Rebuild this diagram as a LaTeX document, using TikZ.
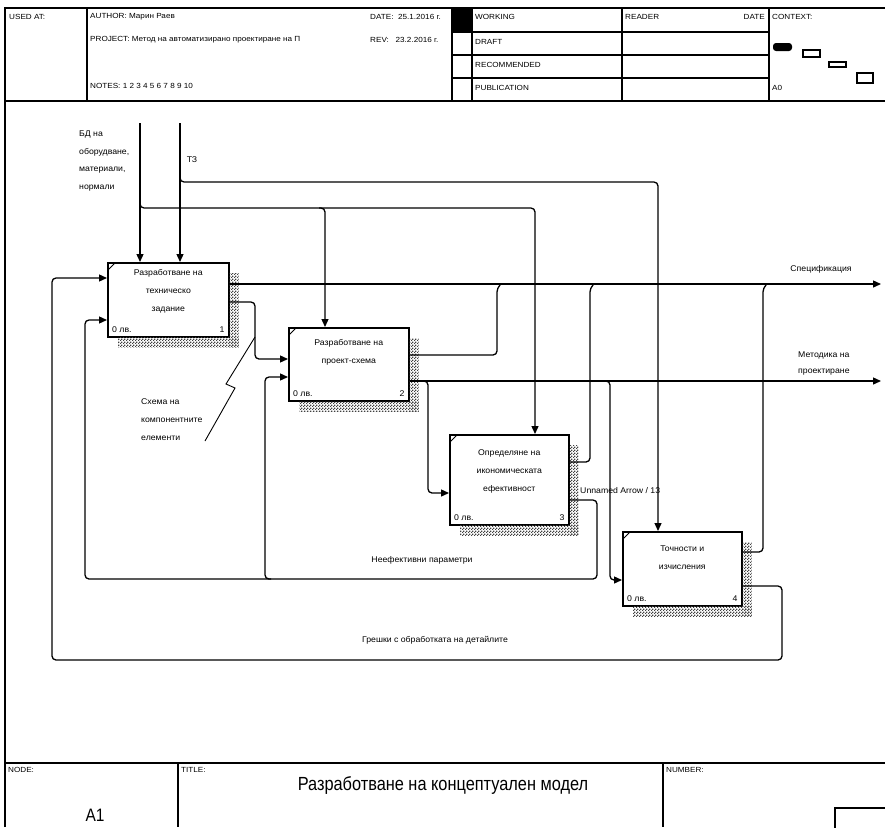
\documentclass[tikz,border=0pt]{standalone}
\usepackage{fontspec}
\setmainfont{Liberation Sans}
\newfontfamily\lbl[FakeStretch=1.05]{Liberation Sans}
\newfontfamily\hfont[FakeStretch=1.1]{Liberation Sans}
\newfontfamily\tfont[FakeStretch=0.86]{Liberation Sans}
\usetikzlibrary{arrows.meta,patterns}
\pgfdeclarepatternformonly{finechk}{\pgfpointorigin}{\pgfpoint{3pt}{3pt}}{\pgfpoint{3pt}{3pt}}{%
  \pgfpathrectangle{\pgfpointorigin}{\pgfpoint{1.5pt}{1.5pt}}%
  \pgfpathrectangle{\pgfpoint{1.5pt}{1.5pt}}{\pgfpoint{1.5pt}{1.5pt}}%
  \pgfusepath{fill}}
\begin{document}
\begin{tikzpicture}[x=1pt,y=-1pt,
  line/.style={line width=1.3pt, rounded corners=4pt},
  arr/.style={line, -{Triangle[length=8pt,width=7pt]}},
  fbox/.style={draw, line width=1.6pt, fill=white, inner sep=0pt, anchor=north west},
  shade/.style={pattern=finechk, pattern color=black!75},
  btxt/.style={font=\lbl\fontsize{8.3}{18}\selectfont, inner sep=0pt, align=center, anchor=north},
  lab/.style={font=\lbl\fontsize{8.3}{9}\selectfont, inner sep=0pt},
  hdr/.style={font=\hfont\fontsize{7.4}{8}\selectfont, inner sep=0pt, anchor=west},
  frame/.style={line width=1.5pt},
  thin/.style={line width=1.1pt}]
\useasboundingbox (0,0) rectangle (885,827);
\fill[white] (0,0) rectangle (885,827);

% ---------- header ----------
\draw[frame] (5,827) -- (5,8) -- (885,8);
\draw[line width=2.4pt] (5,101) -- (885,101);
\foreach \xx in {87,452,472,622,769} \draw[thin] (\xx,8) -- (\xx,101);
\foreach \yy in {32,55,78} \draw[thin] (452,\yy) -- (769,\yy);
\fill (452,8) rectangle (472,32);
\node[hdr] (usedat) at (9,17) {USED AT:};
\node[hdr] (author) at (90,17) {AUTHOR: Марин Раев};
\node[hdr] (project) at (90,40) {PROJECT: Метод на автоматизирано проектиране на П};
\node[hdr] (notes) at (90,86) {NOTES: 1 2 3 4 5 6 7 8 9 10};
\node[hdr] (date) at (370,17) {DATE:\ \ 25.1.2016 г.};
\node[hdr] (rev) at (370,40) {REV:\ \ \ 23.2.2016 г.};
\node[hdr] (working) at (475,17) {WORKING};
\node[hdr] (draft) at (475,42) {DRAFT};
\node[hdr] (recom) at (475,65) {RECOMMENDED};
\node[hdr] (publ) at (475,88) {PUBLICATION};
\node[hdr] (reader) at (625,17) {READER};
\node[hdr, anchor=east] (rdate) at (765,17) {DATE};
\node[hdr] (context) at (772,17) {CONTEXT:};
\node[hdr] (azero) at (772,88) {A0};
\fill[rounded corners=3pt] (773,43) rectangle (792,51);
\draw[line width=1.4pt] (803,50) rectangle (820,57);
\draw[line width=1.4pt] (829,62) rectangle (846,67);
\draw[line width=1.4pt] (857,73) rectangle (873,83);

% ---------- footer ----------
\draw[line width=2.4pt] (5,763) -- (885,763);
\draw[thin] (178,763) -- (178,827);
\draw[thin] (663,763) -- (663,827);
\draw[line width=1.4pt] (835,808) rectangle (895,840);
\node[hdr] (nodelbl) at (8,770) {NODE:};
\node[hdr] (titlelbl) at (181,770) {TITLE:};
\node[hdr] (numlbl) at (666,770) {NUMBER:};
\node[font=\tfont\fontsize{19}{20}\selectfont, inner sep=0pt] (title) at (443,785) {Разработване на концептуален модел};
\node[font=\tfont\fontsize{18}{20}\selectfont, inner sep=0pt] (nodeid) at (95,815) {A1};

% ---------- boxes ----------
\node[fbox, minimum width=121pt, minimum height=74pt] (b1) at (107,262) {};
\node[fbox, minimum width=120pt, minimum height=73pt] (b2) at (288,327) {};
\node[fbox, minimum width=119pt, minimum height=90pt] (b3) at (449,434) {};
\node[fbox, minimum width=119pt, minimum height=74pt] (b4) at (622,531) {};
\foreach \b in {b1,b2,b3,b4}{
  \path[shade] ([yshift=-11pt]\b.north east) rectangle ([xshift=9pt,yshift=-10pt]\b.south east);
  \path[shade] ([xshift=11pt]\b.south west) rectangle ([xshift=9pt,yshift=-10pt]\b.south east);
  \draw[line width=0.8pt] ([xshift=1pt,yshift=-8pt]\b.north west) -- ([xshift=8pt,yshift=-1pt]\b.north west);
}
\node[btxt] (b1t) at ([yshift=-7pt]b1.north) {Разработване на\\техническо\\задание};
\node[btxt] (b2t) at ([yshift=-12pt]b2.north) {Разработване на\\проект-схема};
\node[btxt] (b3t) at ([yshift=-15pt]b3.north) {Определяне на\\икономическата\\ефективност};
\node[btxt] (b4t) at ([yshift=-15pt]b4.north) {Точности и\\изчисления};
\foreach \b/\n in {b1/1,b2/2,b3/3,b4/4}{
  \node[lab, anchor=south west] (\b c) at ([xshift=5pt,yshift=5pt]\b.south west) {0 лв.};
  \node[lab, anchor=south east] (\b n) at ([xshift=-5pt,yshift=5pt]\b.south east) {\n};
}

% ---------- controls ----------
\coordinate (cA) at (140,123);
\coordinate (cB) at (180,123);
\draw[arr] (cA) -- (cA |- b1.north);
\draw[arr] (cB) -- (cB |- b1.north);
\coordinate (jA) at (140,208);
\coordinate (jAe) at (535,208);
\coordinate (jA2) at (325,208);
\draw[arr] ([yshift=6pt]jA) -- (jA) -- (jAe) -- (jAe |- b3.north);
\draw[arr] ([xshift=-6pt]jA2) -- (jA2) -- (jA2 |- b2.north);
\coordinate (jB) at (180,182);
\coordinate (jBe) at (658,182);
\draw[arr] ([yshift=6pt]jB) -- (jB) -- (jBe) -- (jBe |- b4.north);

% ---------- outputs ----------
\coordinate (spec) at (881,284);
\draw[arr] (spec -| b1.east) -- (spec);
\coordinate (j2s) at (497,355);
\draw[line] (j2s -| b2.east) -- (j2s) -- ([yshift=-4pt]j2s |- spec) -- ([xshift=4pt]j2s |- spec);
\coordinate (j3s) at (590,462);
\draw[line] (j3s -| b3.east) -- (j3s) -- ([yshift=-4pt]j3s |- spec) -- ([xshift=4pt]j3s |- spec);
\coordinate (j4s) at (763,552);
\draw[line] (j4s -| b4.east) -- (j4s) -- ([yshift=-4pt]j4s |- spec) -- ([xshift=4pt]j4s |- spec);

\coordinate (j12) at (255,302);
\coordinate (in2a) at (255,359);
\draw[arr] (j12 -| b1.east) -- (j12) -- (in2a) -- (in2a -| b2.west);

\coordinate (meth) at (881,381);
\draw[arr] (meth -| b2.east) -- (meth);
\coordinate (j23) at (428,381);
\coordinate (in3) at (428,493);
\draw[arr] ([xshift=-6pt]j23) -- (j23) -- (in3) -- (in3 -| b3.west);
\coordinate (j24) at (610,381);
\coordinate (in4) at (610,580);
\draw[arr] ([xshift=-6pt]j24) -- (j24) -- (in4) -- (in4 -| b4.west);

% ---------- feedbacks ----------
\coordinate (f1a) at (597,500);
\coordinate (f1b) at (597,579);
\coordinate (f1c) at (85,579);
\coordinate (f1d) at (85,320);
\draw[arr] (f1a -| b3.east) -- (f1a) -- (f1b) -- (f1c) -- (f1d) -- (f1d -| b1.west);
\coordinate (f1e) at (265,579);
\coordinate (f1f) at (265,377);
\draw[arr] ([xshift=6pt]f1e) -- (f1e) -- (f1f) -- (f1f -| b2.west);

\coordinate (f2a) at (782,586);
\coordinate (f2b) at (782,660);
\coordinate (f2c) at (52,660);
\coordinate (f2d) at (52,278);
\draw[arr] (f2a -| b4.east) -- (f2a) -- (f2b) -- (f2c) -- (f2d) -- (f2d -| b1.west);

% squiggle
\coordinate (sq) at (255,337);
\draw[line width=0.9pt] (sq) -- (226,384) -- (235,388) -- (205,441);

% ---------- labels ----------
\node[lab, align=left, anchor=north west, font=\lbl\fontsize{8.3}{17.5}\selectfont] (bdlbl) at (79,131) {БД на\\оборудване,\\материали,\\нормали};
\node[lab] (tzlbl) at (192,160) {ТЗ};
\node[lab] (speclbl) at (821,269) {Спецификация};
\node[lab, align=left, anchor=north west, font=\lbl\fontsize{8.3}{16}\selectfont] (methlbl) at (798,352) {Методика на\\проектиране};
\node[lab, align=left, anchor=north west, font=\lbl\fontsize{8.3}{18}\selectfont] (schlbl) at (141,398) {Схема на\\компонентните\\елементи};
\node[lab, anchor=west] (unlbl) at (580,491) {Unnamed Arrow / 13};
\node[lab] (neflbl) at (422,560) {Неефективни параметри};
\node[lab] (errlbl) at (435,640) {Грешки с обработката на детайлите};
\end{tikzpicture}
\end{document}
